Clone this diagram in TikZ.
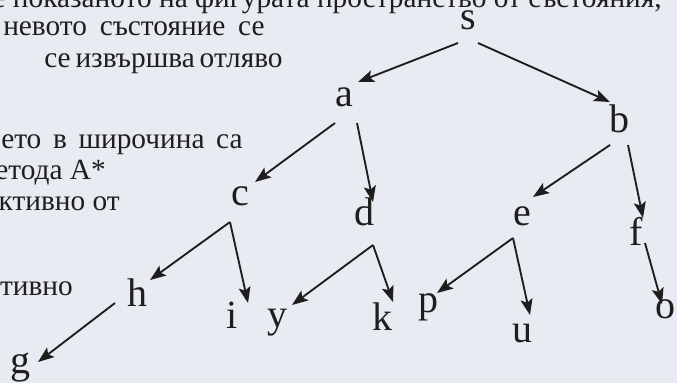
\documentclass[tikz,border=0pt]{standalone}
\usepackage{fontspec}
\setmainfont{Liberation Serif}
\usetikzlibrary{arrows.meta,calc}
\definecolor{paper}{HTML}{E9EBF2}
\definecolor{ink}{HTML}{1E1E1E}
\begin{document}
\begin{tikzpicture}[x=0.75pt,y=-0.75pt,
  lbl/.style={inner sep=0pt,anchor=base,text=ink,font=\fontsize{30}{34}\selectfont},
  txt/.style={inner sep=0pt,text=ink,font=\fontsize{22}{26}\selectfont},
  arr/.style={draw=ink,line width=1.4pt,-{Stealth[length=12pt,width=9pt,inset=2.5pt]}}]
\fill[paper] (0,0) rectangle (677,383);
\useasboundingbox (0,0) rectangle (677,383);
\clip (0,0) rectangle (677,383);

% text column (justified lines, cut at the left edge)
\node[txt,anchor=base east] (t1) at (662,7) {Дадено е показаното на фигурата пространство от състояния,};
\node[txt,anchor=base west] (t2) at (3,35) {\makebox[196pt][s]{невото състояние се}};
\node[txt,anchor=base west] (t3) at (44,67) {\makebox[174pt][s]{се извършва отляво}};
\node[txt,anchor=base west] (t4) at (1,148) {\makebox[181pt][s]{ето в широчина са}};
\node[txt,anchor=base east] (t5) at (106,179) {етода А*};
\node[txt,anchor=base east] (t6) at (120,210) {ктивно от};
\node[txt,anchor=base east] (t7) at (73,295) {тивно};

% tree nodes
\node[lbl] (s) at (468,29) {s};
\node[lbl] (a) at (344,106) {a};
\node[lbl] (b) at (619,132) {b};
\node[lbl] (c) at (240,205) {c};
\node[lbl] (d) at (364,225) {d};
\node[lbl] (e) at (522,225) {e};
\node[lbl] (f) at (636,245) {f};
\node[lbl] (h) at (137,306) {h};
\node[lbl] (i) at (232,328) {i};
\node[lbl] (y) at (277,327) {y};
\node[lbl] (k) at (382,330) {k};
\node[lbl] (p) at (428,312) {p};
\node[lbl] (u) at (522,342) {u};
\node[lbl] (o) at (665,318) {o};
\node[lbl] (g) at (20,373) {g};

% connectors
\draw[arr] ($(s.base)+(-10,14)$) -- ($(a.base)+(14,-24)$);
\draw[arr] ($(s.base)+(10,14)$) -- ($(b.base)+(-9,-30)$);
\draw[arr] ($(a.base)+(-9,17)$) -- ($(c.base)+(15,-23)$);
\draw[arr] ($(a.base)+(13,17)$) -- ($(d.base)+(9,-23)$);
\draw[arr] ($(b.base)+(-9,13)$) -- ($(e.base)+(11,-28)$);
\draw[arr] ($(b.base)+(9,13)$) -- ($(f.base)+(7,-27)$);
\draw[arr] ($(c.base)+(-10,17)$) -- ($(h.base)+(13,-26)$);
\draw[arr] ($(c.base)+(-10,17)$) -- ($(i.base)+(16,-25)$);
\draw[arr] ($(d.base)+(9,20)$) -- ($(y.base)+(15,-22)$);
\draw[arr] ($(d.base)+(9,20)$) -- ($(k.base)+(11,-28)$);
\draw[arr] ($(e.base)+(-9,13)$) -- ($(p.base)+(9,-19)$);
\draw[arr] ($(e.base)+(-9,13)$) -- ($(u.base)+(8,-27)$);
\draw[arr] ($(f.base)+(9,-2)$) -- ($(o.base)+(-3,-14)$);
\draw[arr] ($(h.base)+(-22,-3)$) -- ($(g.base)+(18,-11)$);
\end{tikzpicture}
\end{document}
